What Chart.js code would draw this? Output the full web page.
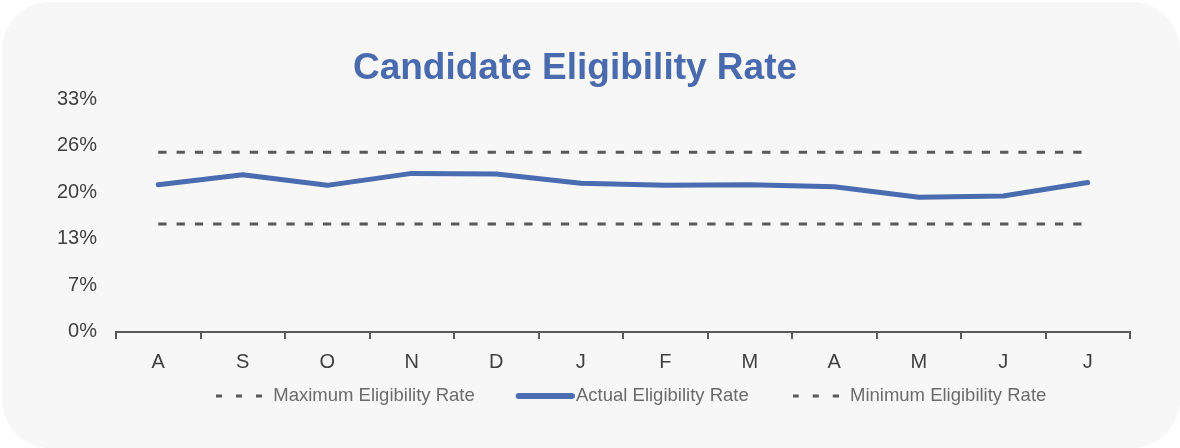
<!DOCTYPE html>
<html>
<head>
<meta charset="utf-8">
<script src="https://cdn.jsdelivr.net/npm/chart.js@4/dist/chart.umd.min.js"></script>
<style>
  html, body { margin: 0; padding: 0; background: #ffffff; }
  #card { position: absolute; left: 2px; top: 2px; width: 1178px; height: 446px; background: #f7f7f7; border-radius: 48px; overflow: hidden; }
  #wrap { position: absolute; left: -2px; top: -2px; width: 1180px; height: 448px; }
</style>
</head>
<body>
<div id="card"><div id="wrap"><canvas id="c" width="1180" height="448"></canvas></div></div>
<script>
const months = ['A','S','O','N','D','J','F','M','A','M','J','J'];
const maxRate = [0.255,0.255,0.255,0.255,0.255,0.255,0.255,0.255,0.255,0.255,0.255,0.255];
const actualRate = [0.209,0.223,0.208,0.225,0.224,0.211,0.208,0.209,0.206,0.191,0.193,0.212];
const minRate = [0.153,0.153,0.153,0.153,0.153,0.153,0.153,0.153,0.153,0.153,0.153,0.153];
const yMax = 0.33;
const yStep = 0.066;

const FONT = "'Liberation Sans', Arial, sans-serif";
const grey = '#595959';
const blue = '#4a6cb0';

function dashIcon() {
  const c = document.createElement('canvas');
  c.width = 46; c.height = 6;
  const x = c.getContext('2d');
  x.fillStyle = grey;
  [0, 20, 40].forEach(p => x.fillRect(p, 1.5, 6, 3));
  return c;
}
function solidIcon() {
  const c = document.createElement('canvas');
  c.width = 66; c.height = 8;
  const x = c.getContext('2d');
  x.strokeStyle = blue; x.lineWidth = 6; x.lineCap = 'round';
  x.beginPath(); x.moveTo(10, 4); x.lineTo(63, 4); x.stroke();
  return c;
}
const icons = [dashIcon(), solidIcon(), dashIcon()];

const legendPlace = {
  id: 'legendPlace',
  afterLayout(chart) {
    const lg = chart.legend;
    if (!lg || !lg.lineWidths) return;
    const pad = lg.options.labels.padding;
    const start = (lg.left + pad + lg.right - lg.lineWidths[0]) / 2;
    const dx = 214 - start;
    lg.left += dx; lg.right += dx;
    const fs = lg.options.labels.font.size;
    const dy = (396 - pad - fs / 2) - lg.top;
    lg.top += dy; lg.bottom += dy;
  }
};

new Chart(document.getElementById('c'), {
  type: 'line',
  data: {
    labels: months,
    datasets: [
      { label: 'Maximum Eligibility Rate', data: maxRate, borderColor: grey, backgroundColor: grey,
        borderWidth: 3, borderDash: [8.3, 10], pointRadius: 0, fill: false, tension: 0 },
      { label: 'Actual Eligibility Rate', data: actualRate, borderColor: blue, backgroundColor: blue,
        borderWidth: 5, pointRadius: 0, fill: false, tension: 0, borderCapStyle: 'round', borderJoinStyle: 'round' },
      { label: 'Minimum Eligibility Rate', data: minRate, borderColor: grey, backgroundColor: grey,
        borderWidth: 3, borderDash: [8.3, 10], pointRadius: 0, fill: false, tension: 0 }
    ]
  },
  plugins: [legendPlace],
  options: {
    responsive: false,
    animation: false,
    devicePixelRatio: 1,
    layout: { padding: { left: 20, right: 50, top: 0, bottom: -9.4 } },
    plugins: {
      title: {
        display: true,
        text: 'Candidate Eligibility Rate',
        color: '#4a6aae',
        font: { family: FONT, size: 37, weight: 'bold' },
        padding: { top: 47, bottom: 8 }
      },
      legend: {
        position: 'bottom',
        fullSize: false,
        labels: {
          usePointStyle: true,
          pointStyleWidth: 50,
          boxWidth: 50,
          padding: 42,
          color: '#6b6b6b',
          font: { family: FONT, size: 18.5 },
          generateLabels(chart) {
            return chart.data.datasets.map((ds, i) => ({
              text: ds.label,
              datasetIndex: i,
              fillStyle: ds.borderColor,
              strokeStyle: ds.borderColor,
              lineWidth: 0,
              hidden: false,
              pointStyle: icons[i],
              fontColor: '#6b6b6b'
            }));
          }
        }
      },
      tooltip: { enabled: false }
    },
    scales: {
      x: {
        offset: true,
        grid: { display: true, offset: true, drawOnChartArea: false, drawTicks: true, tickLength: 7, color: grey, lineWidth: 2 },
        border: { display: true, color: grey, width: 2 },
        ticks: { color: '#404040', font: { family: FONT, size: 20 }, padding: 12, maxRotation: 0, autoSkip: false }
      },
      y: {
        min: 0,
        max: yMax,
        afterFit: (s) => { s.width = 96; },
        grid: { display: false, drawTicks: false },
        border: { display: false },
        ticks: {
          stepSize: yStep,
          padding: 19,
          color: '#404040',
          font: { family: FONT, size: 20 },
          callback: (v) => Math.round(v * 100) + '%'
        }
      }
    }
  }
});
</script>
</body>
</html>
